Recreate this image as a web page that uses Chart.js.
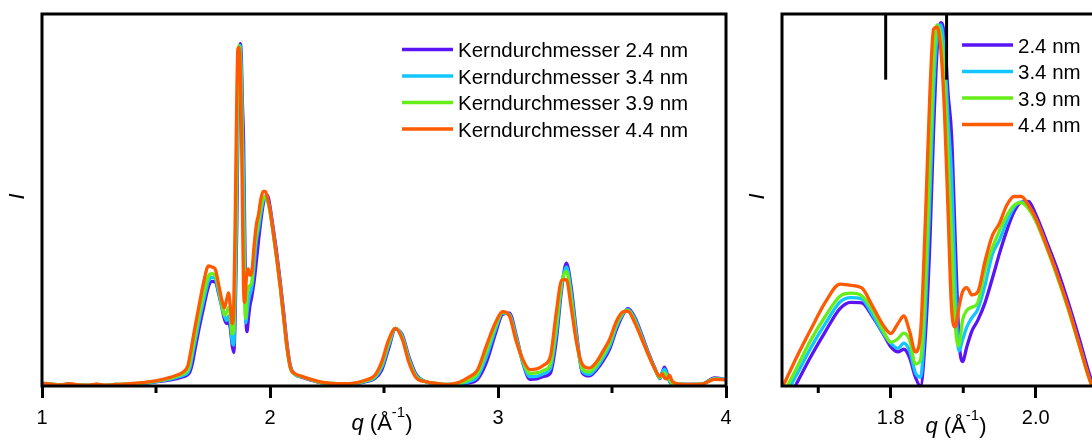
<!DOCTYPE html>
<html>
<head>
<meta charset="utf-8">
<title>Kerndurchmesser</title>
<script src="https://cdn.jsdelivr.net/npm/chart.js@4"></script>
<style>
  html, body { margin: 0; padding: 0; overflow: hidden; background: #fff; }
  #wrap { position: relative; width: 1092px; height: 442px; overflow: hidden; }
  #full { position: absolute; left: 0; top: 0; }
  #zoom { position: absolute; left: 740px; top: 0; }
</style>
</head>
<body>
<div id="wrap">
  <canvas id="full" width="740" height="442"></canvas>
  <canvas id="zoom" width="400" height="442"></canvas>
</div>
<script>
// scattering vector q (1/Angstrom)
const q = [
  1.00, 1.04, 1.08, 1.12, 1.16, 1.20, 1.24, 1.28, 1.32, 1.36,
  1.40, 1.45, 1.50, 1.55, 1.59, 1.62, 1.64, 1.65, 1.66, 1.67,
  1.69, 1.71, 1.73, 1.745, 1.76, 1.775, 1.79, 1.80, 1.81, 1.818,
  1.826, 1.834, 1.841, 1.848, 1.854, 1.859, 1.864, 1.869, 1.874, 1.879,
  1.884, 1.889, 1.894, 1.899, 1.905, 1.912, 1.92, 1.93, 1.94, 1.95,
  1.96, 1.97, 1.98, 1.99, 2.00, 2.015, 2.03, 2.045, 2.06, 2.075,
  2.09, 2.11, 2.14, 2.18, 2.22, 2.27, 2.32, 2.37, 2.42, 2.46,
  2.49, 2.52, 2.55, 2.58, 2.61, 2.64, 2.68, 2.73, 2.78, 2.83,
  2.87, 2.91, 2.95, 2.99, 3.02, 3.05, 3.08, 3.11, 3.14, 3.17,
  3.20, 3.23, 3.255, 3.28, 3.30, 3.32, 3.345, 3.37, 3.40, 3.43,
  3.46, 3.49, 3.52, 3.55, 3.57, 3.60, 3.63, 3.66, 3.69, 3.71,
  3.72, 3.73, 3.74, 3.752, 3.765, 3.80, 3.85, 3.90, 3.95, 4.00
];

// intensity (arb. units), one list per core diameter
const i24 = [
  0.7, 0.4, 0.2, 0.5, 0.2, 0.1, 0.4, 0.1, 0.3, 0.4,
  0.5, 0.7, 1.1, 1.5, 2.0, 2.5, 3.1, 4.0, 6.2, 9.5,
  15.8, 21.5, 26.7, 28.1, 28.0, 24.8, 20.8, 18.0, 16.8, 17.4,
  15.5, 11.0, 9.0, 21.0, 42.0, 67.0, 86.0, 92.0, 89.0, 76.0,
  66.0, 42.0, 20.0, 14.6, 18.0, 21.6, 24.0, 28.0, 33.5, 39.3,
  44.5, 48.8, 51.0, 51.2, 48.2, 42.0, 35.5, 28.0, 19.8, 11.2,
  5.3, 3.1, 2.4, 1.6, 0.9, 0.6, 0.5, 0.6, 1.2, 2.0,
  4.3, 10.0, 15.3, 13.8, 7.7, 3.2, 1.2, 0.6, 0.3, 0.4,
  0.8, 1.8, 6.5, 14.3, 19.3, 19.6, 13.6, 6.0, 1.8, 1.9,
  2.6, 3.5, 12.0, 26.5, 33.0, 27.0, 14.0, 3.5, 2.7, 4.2,
  6.7, 10.0, 15.3, 19.4, 20.8, 18.5, 13.9, 8.9, 4.5, 2.0,
  3.5, 5.1, 3.7, 1.3, 0.4, 0.4, 0.4, 0.6, 2.2, 1.7
];
const i34 = [
  0.7, 0.5, 0.3, 0.5, 0.3, 0.2, 0.4, 0.2, 0.4, 0.4,
  0.6, 0.8, 1.2, 1.7, 2.3, 2.9, 3.7, 5.2, 8.5, 11.5,
  17.8, 23.3, 28.2, 29.2, 28.9, 25.2, 21.0, 18.8, 17.6, 18.8,
  17.0, 12.0, 11.0, 27.0, 52.0, 76.0, 89.0, 91.5, 85.0, 70.0,
  56.8, 32.0, 17.0, 19.5, 22.5, 24.6, 26.5, 32.0, 39.0, 42.4,
  46.5, 49.8, 51.0, 50.0, 47.2, 41.0, 34.2, 26.8, 18.5, 10.2,
  4.9, 3.1, 2.5, 1.7, 1.0, 0.7, 0.6, 0.7, 1.3, 2.3,
  5.0, 10.8, 15.5, 13.4, 7.2, 2.9, 1.2, 0.7, 0.4, 0.6,
  1.1, 2.5, 8.0, 15.4, 19.6, 19.3, 13.0, 6.2, 2.5, 2.6,
  3.3, 4.8, 14.0, 27.5, 32.0, 25.5, 13.0, 4.0, 3.1, 4.7,
  7.4, 10.8, 16.0, 19.6, 20.5, 18.0, 13.4, 8.6, 4.4, 2.1,
  3.6, 4.5, 3.2, 1.4, 0.4, 0.5, 0.4, 0.6, 2.0, 1.7
];
const i39 = [
  0.7, 0.5, 0.3, 0.5, 0.3, 0.2, 0.4, 0.2, 0.4, 0.5,
  0.6, 0.9, 1.3, 1.9, 2.6, 3.3, 4.4, 6.5, 9.8, 13.0,
  19.6, 25.0, 29.5, 30.2, 29.6, 26.3, 21.5, 19.0, 19.8, 21.1,
  19.5, 14.0, 15.0, 33.0, 60.0, 82.0, 91.5, 89.0, 80.0, 62.0,
  43.0, 23.0, 18.2, 24.0, 26.3, 27.0, 28.0, 35.5, 40.5, 44.5,
  47.9, 50.3, 50.9, 49.5, 46.7, 40.6, 33.8, 26.4, 18.2, 10.0,
  4.7, 3.2, 2.5, 1.7, 1.0, 0.7, 0.6, 0.7, 1.4, 2.6,
  5.8, 11.5, 15.5, 13.0, 6.8, 2.6, 1.2, 0.7, 0.4, 0.8,
  1.6, 3.3, 9.5, 16.3, 19.8, 19.0, 12.5, 6.5, 3.4, 3.5,
  4.2, 6.0, 16.0, 28.0, 30.8, 24.0, 12.0, 4.6, 3.8, 5.4,
  8.2, 11.7, 16.7, 19.8, 20.3, 17.5, 13.0, 8.4, 4.3, 2.3,
  3.0, 3.6, 2.6, 1.8, 0.6, 0.5, 0.4, 0.6, 1.9, 1.7
];
const i44 = [
  0.8, 0.5, 0.3, 0.6, 0.3, 0.2, 0.5, 0.2, 0.4, 0.5,
  0.7, 1.0, 1.4, 2.1, 2.9, 3.8, 5.5, 8.5, 12.0, 15.5,
  22.0, 28.2, 32.3, 32.0, 31.4, 27.2, 22.8, 21.0, 23.3, 25.0,
  21.5, 16.8, 21.0, 48.0, 76.0, 90.5, 91.0, 86.0, 72.0, 49.0,
  26.4, 22.5, 27.0, 30.5, 31.5, 29.8, 30.5, 37.5, 43.3, 46.2,
  50.3, 52.3, 52.3, 50.3, 47.3, 41.0, 34.3, 26.8, 18.5, 10.2,
  4.8, 3.3, 2.6, 1.8, 1.1, 0.7, 0.6, 0.8, 1.6, 2.9,
  6.5, 12.3, 15.5, 12.6, 6.2, 2.3, 1.2, 0.7, 0.4, 1.0,
  2.3, 4.3, 11.0, 17.2, 20.0, 18.8, 12.0, 7.0, 4.4, 4.6,
  5.6, 8.0, 19.5, 28.5, 28.6, 21.5, 11.5, 5.8, 4.8, 6.3,
  9.3, 12.6, 17.5, 20.0, 20.1, 17.0, 12.7, 8.3, 4.3, 2.6,
  3.3, 2.2, 1.9, 2.9, 1.2, 0.5, 0.4, 0.6, 1.8, 1.7
];

const sizes = ['2.4', '3.4', '3.9', '4.4'];
const fullTicks = [1, 2, 3, 4];
const fullMinor = [1.5, 2.5, 3.5];
const zoomTicks = [1.8, 2.0];
const zoomMinor = [1.7, 1.9, 2.1];
// reference reflection positions marked in the zoomed panel
const markerQ = [1.793, 1.877];
const markerSpan = [79, 94];

const colors = ['#5a14f5', '#12c6ff', '#66ee18', '#ff5a00'];
const FONT = '"Liberation Sans", Arial, sans-serif';
Chart.defaults.font.family = FONT;
Chart.defaults.color = '#000';

function seriesSets(prefix) {
  return [i24, i34, i39, i44].map((arr, k) => ({
    label: prefix + sizes[k] + ' nm',
    data: q.map((x, j) => ({ x: x, y: arr[j] })),
    borderColor: colors[k],
    borderWidth: 3.3,
    pointRadius: 0,
    borderJoinStyle: 'round',
    cubicInterpolationMode: 'monotone',
    fill: false,
    order: 10 - k   // larger diameters painted on top
  }));
}

function markerSets() {
  return markerQ.map(m => ({
    label: '',
    inLegend: false,
    data: markerSpan.map(v => ({ x: m, y: v })),
    borderColor: '#000',
    borderWidth: 3,
    pointRadius: 0,
    tension: 0,
    order: 0
  }));
}

// frame, minor ticks, legend and axis titles
const panelPlugin = {
  id: 'panel',
  afterDraw(chart, args, o) {
    const ctx = chart.ctx, a = chart.chartArea, x = chart.scales.x;
    ctx.save();
    ctx.strokeStyle = '#000';
    ctx.lineWidth = 3;
    ctx.strokeRect(a.left, a.top, a.right - a.left, a.bottom - a.top);

    ctx.beginPath();
    o.minor.forEach(v => {
      const px = x.getPixelForValue(v);
      ctx.moveTo(px, a.bottom);
      ctx.lineTo(px, a.bottom + 7);
    });
    ctx.stroke();

    // legend
    ctx.font = '20.5px ' + FONT;
    ctx.textAlign = 'left';
    ctx.textBaseline = 'alphabetic';
    chart.data.datasets.filter(d => d.inLegend !== false).forEach((d, k) => {
      const lx = a.left + o.legendX, ly = o.legendY + k * 26.5;
      ctx.strokeStyle = d.borderColor;
      ctx.lineWidth = 3.5;
      ctx.beginPath();
      ctx.moveTo(lx, ly);
      ctx.lineTo(lx + 51, ly);
      ctx.stroke();
      ctx.fillStyle = '#000';
      ctx.fillText(d.label, lx + 56, ly + 7.5);
    });

    // x title: q (Å^-1)
    const parts = [
      { t: 'q', f: 'italic 22px ' + FONT, dy: 0 },
      { t: ' (Å', f: '22px ' + FONT, dy: 0 },
      { t: '-1', f: '15px ' + FONT, dy: -13 },
      { t: ')', f: '22px ' + FONT, dy: 0 }
    ];
    let w = 0;
    parts.forEach(p => { ctx.font = p.f; p.w = ctx.measureText(p.t).width; w += p.w; });
    let tx = (a.left + a.right) / 2 - w / 2 + o.titleDx;
    ctx.fillStyle = '#000';
    parts.forEach(p => {
      ctx.font = p.f;
      ctx.fillText(p.t, tx, o.titleY + p.dy);
      tx += p.w;
    });

    // y title: I
    ctx.translate(a.left - 24, (a.top + a.bottom) / 2 - 3.5);
    ctx.rotate(-Math.PI / 2);
    ctx.font = 'italic 22px ' + FONT;
    ctx.textAlign = 'center';
    ctx.textBaseline = 'middle';
    ctx.fillText('I', 0, 0);
    ctx.restore();
  }
};

function panelOptions(o) {
  return {
    responsive: false,
    animation: false,
    layout: { padding: { left: 42, right: o.padRight, top: 14, bottom: 0 } },
    scales: {
      x: {
        type: 'linear',
        min: o.min,
        max: o.max,
        afterBuildTicks: s => { s.ticks = o.ticks.map(v => ({ value: v })); },
        afterFit: s => { s.height = 56; },
        grid: { display: true, drawOnChartArea: false, drawTicks: true, tickLength: 12, tickWidth: 3, tickColor: '#000' },
        border: { display: false },
        ticks: { color: '#000', font: { size: 20 }, padding: 8, maxRotation: 0, autoSkip: false, callback: o.fmt }
      },
      y: { display: false, min: o.ymin, max: o.ymax }
    },
    plugins: {
      legend: { display: false },
      tooltip: { enabled: false },
      panel: { minor: o.minor, legendX: o.legendX, legendY: o.legendY, titleY: o.titleY, titleDx: o.titleDx }
    }
  };
}

new Chart(document.getElementById('full'), {
  type: 'line',
  data: { datasets: seriesSets('Kerndurchmesser ') },
  options: panelOptions({
    min: 1, max: 4, ymin: 0, ymax: 100, padRight: 14,
    ticks: fullTicks, minor: fullMinor, fmt: v => String(v),
    legendX: 360, legendY: 49.5, titleY: 430, titleDx: -2
  }),
  plugins: [panelPlugin]
});

new Chart(document.getElementById('zoom'), {
  type: 'line',
  data: { datasets: markerSets().concat(seriesSets('')) },
  options: panelOptions({
    min: 1.65, max: 2.13, ymin: 9, ymax: 94, padRight: 10,
    ticks: zoomTicks, minor: zoomMinor, fmt: v => v.toFixed(1),
    legendX: 180, legendY: 45, titleY: 433, titleDx: 0
  }),
  plugins: [panelPlugin]
});
</script>
</body>
</html>
